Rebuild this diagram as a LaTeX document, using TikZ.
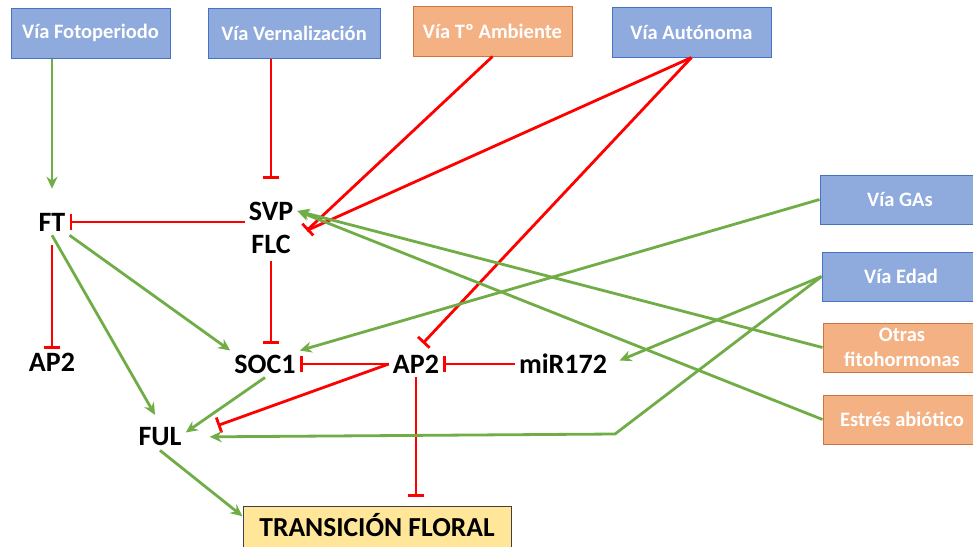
\documentclass[tikz,border=0pt]{standalone}
\usepackage{fontspec}
\setmainfont{Carlito}
\usetikzlibrary{positioning,arrows.meta,calc}

\definecolor{viablue}{HTML}{8FAADC}
\definecolor{viablueline}{HTML}{4472C4}
\definecolor{viaorange}{HTML}{F4B183}
\definecolor{viaorangeline}{HTML}{D0743C}
\definecolor{floralyellow}{HTML}{FFE699}
\definecolor{floralline}{HTML}{404040}
\definecolor{actgreen}{HTML}{70AD47}
\definecolor{inhred}{HTML}{FF0000}

\begin{document}
\begin{tikzpicture}[x=1pt, y=-1pt,
  via/.style={draw=viablueline, fill=viablue, line width=1pt, text=white,
    font=\bfseries\fontsize{20.5}{25}\selectfont, align=center,
    minimum width=159pt, minimum height=50pt, inner sep=2pt},
  viaorg/.style={via, draw=viaorangeline, fill=viaorange},
  gene/.style={font=\bfseries\fontsize{28}{30}\selectfont, inner sep=4pt},
  act/.style={draw=actgreen, line width=2.8pt, -{Stealth[length=12pt,width=11pt]}},
  inh/.style={draw=inhred, line width=2.8pt, -{Bar[width=16pt]}},
  inhline/.style={draw=inhred, line width=2.8pt}
]
\path[use as bounding box, clip] (0,0) rectangle (973,546);

% vias de entrada
\node[via] (foto) at (90.5,33) {Vía Fotoperiodo};
\node[via, minimum width=172pt] (vern) at (294,33) {Vía Vernalización};
\node[viaorg] (tamb) at (492.5,31) {Vía Tº Ambiente};
\node[via] (auto) at (691.5,32) {Vía Autónoma};
\node[via, minimum width=160pt, minimum height=49pt] (gas) at (900,199.5) {Vía GAs};
\node[via, minimum width=158pt, minimum height=49pt] (edad) at (901,276.5) {Vía Edad};
\node[viaorg, minimum width=158pt, minimum height=49pt] (otras) at (902,347.5) {Otras\\fitohormonas};
\node[viaorg, minimum width=158pt, minimum height=49pt] (estres) at (902,419.5) {Estrés abiótico};

% genes
\node[gene] (ft) at (52,222) {FT};
\node[gene] (svp) at (271,211) {SVP};
\node[gene] (flc) at (271,244) {FLC};
\node[gene] (ap2l) at (52,362) {AP2};
\node[gene] (soc1) at (265,364) {SOC1};
\node[gene] (ap2m) at (416,364) {AP2};
\node[gene] (mir) at (563,364) {miR172};
\node[gene] (ful) at (160,437) {FUL};

\node[draw=floralline, fill=floralyellow, line width=1pt, minimum width=268pt,
  minimum height=42pt, text height=18pt, text depth=0pt,
  font=\bfseries\fontsize{27.5}{30}\selectfont] (trans) at (377,527) {TRANSICIÓN FLORAL};

\coordinate (flcin) at ($(flc.north east)+(12,0)$);
\coordinate (edadbend) at (615,434);

% represiones
\draw[inh, shorten >=19pt] (vern.south -| svp.north) -- (svp.north);
\draw[inh] (svp.west |- ft.east) -- (ft.east);
\draw[inh, shorten <=10pt] (ft.south) -- (ap2l.north);
\draw[inh, shorten <=4pt, shorten >=7pt] (flc.south) -- (flc.south |- soc1.north);
\draw[inh] (tamb.south) -- (flcin);
\draw[inhline] (auto.south) -- (flcin);
\draw[inh, shorten >=10pt] (auto.south) -- (ap2m.north);
\draw[inh] (ap2m.west) -- (soc1.east);
\draw[inh, shorten >=34pt] (ap2m.west) -- (ful.east);
\draw[inh] (mir.west) -- (ap2m.east);
\draw[inh, shorten >=9pt] (ap2m.south) -- (ap2m.south |- trans.north);

% activaciones
\draw[act, shorten >=20pt] (foto.south -| ft.north) -- (ft.north);
\draw[act] (ft.south east) -- (soc1.north west);
\draw[act, shorten >=10pt] (ft.south) -- (ful.north);
\draw[act] (soc1.south) -- (ful.10);
\draw[act] (ful.south) -- ($(trans.north west)!0.5!(trans.west)$);
\draw[act] (gas.west) -- (soc1.north east);
\draw[act] (otras.west) -- (svp.east);
\draw[act] (estres.west) -- (svp.east);
\draw[act, shorten >=9pt] (edad.west) -- (mir.east);
\draw[act, shorten >=24pt] (edad.west) -- (edadbend) -- (ful.east);
\end{tikzpicture}
\end{document}
